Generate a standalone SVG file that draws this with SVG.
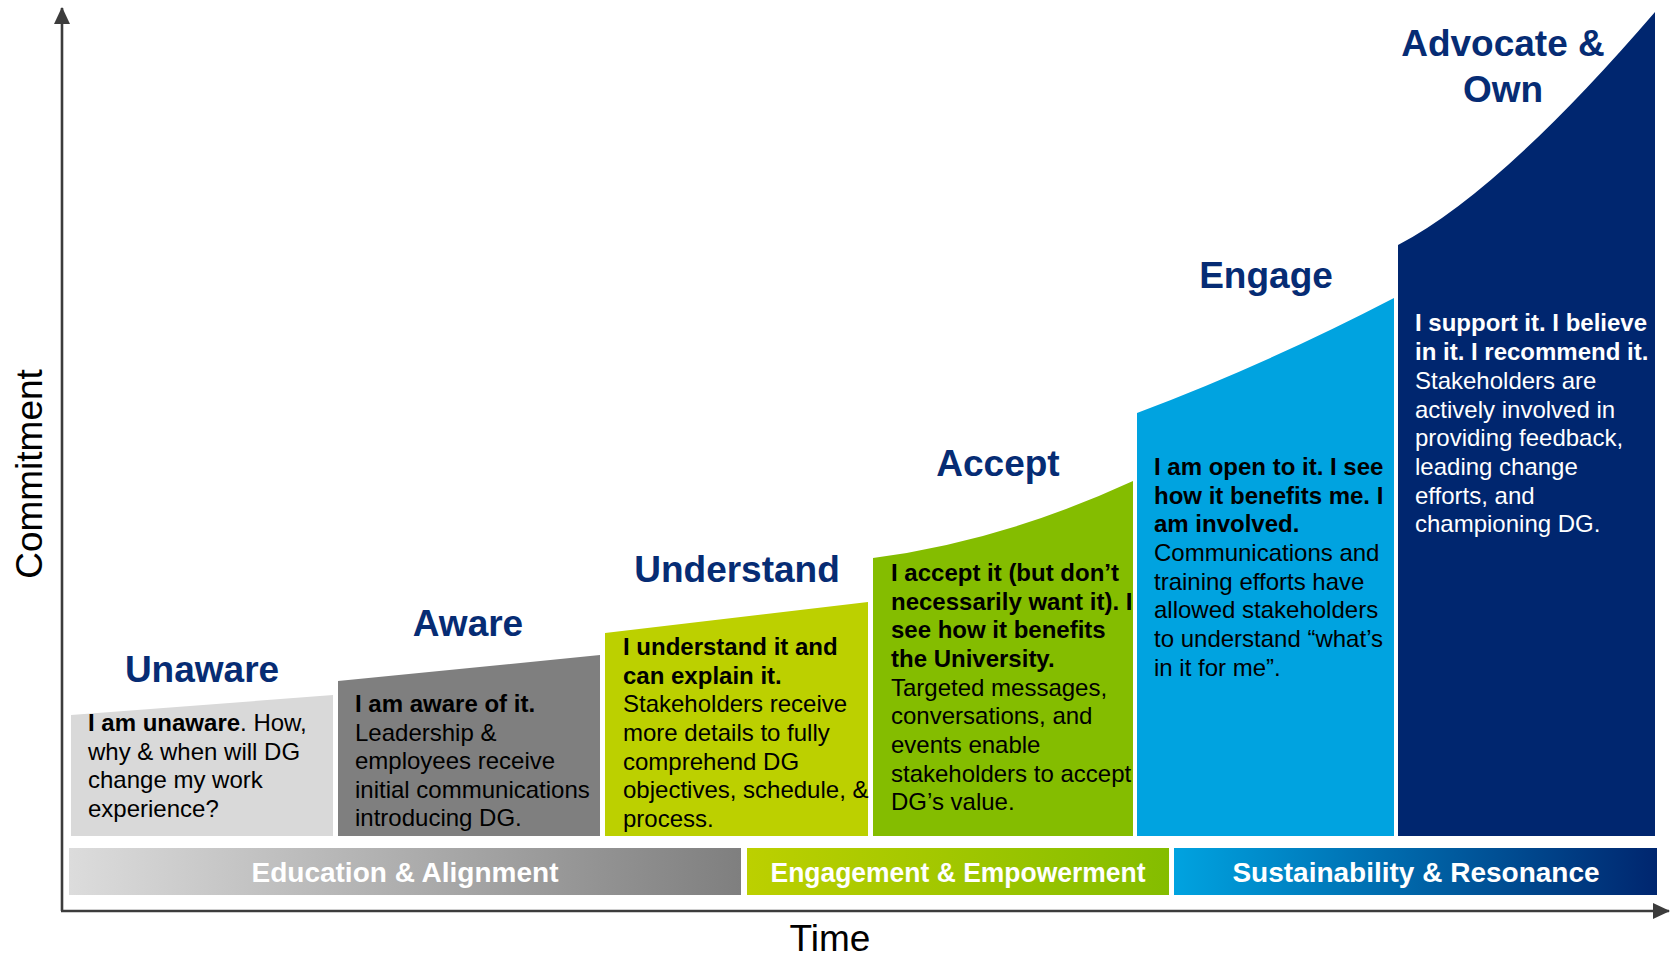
<svg xmlns="http://www.w3.org/2000/svg" width="1671" height="960" viewBox="0 0 1671 960">
<style>
text{font-family:"Liberation Sans",Arial,sans-serif}
.title{font-size:37px;font-weight:bold;fill:#062C74;text-anchor:middle}
.body{font-size:24px;fill:#000}
.w{fill:#fff}
.b{font-weight:bold}
.bar{font-size:28px;font-weight:bold;fill:#fff;text-anchor:middle}
.axlabel{font-size:37px;fill:#000;text-anchor:middle}
.axis{stroke:#3c3c3c;stroke-width:2.6;fill:none}
</style>
<defs>
<linearGradient id="gEdu" x1="0" y1="0" x2="1" y2="0"><stop offset="0" stop-color="#DCDCDC"/><stop offset="1" stop-color="#7F7F7F"/></linearGradient>
<linearGradient id="gEng" x1="0" y1="0" x2="1" y2="0"><stop offset="0" stop-color="#BCD000"/><stop offset="1" stop-color="#84BD00"/></linearGradient>
<linearGradient id="gSus" x1="0" y1="0" x2="1" y2="0"><stop offset="0" stop-color="#00A3E0"/><stop offset="1" stop-color="#00266F"/></linearGradient>
<marker id="arr" markerUnits="userSpaceOnUse" markerWidth="18" markerHeight="16" viewBox="0 0 18 16" refX="16" refY="8" orient="auto"><path d="M0,0 L17,8 L0,16 Z" fill="#3c3c3c"/></marker>
</defs>
<rect width="1671" height="960" fill="#fff"/>

<g id="connectors">
<line class="axis" x1="62" y1="911" x2="62" y2="8" marker-end="url(#arr)"/>
<line class="axis" x1="61" y1="911" x2="1669" y2="911" marker-end="url(#arr)"/>
</g>

<g id="axis-labels">
<text class="axlabel" transform="translate(42,474) rotate(-90)">Commitment</text>
<text class="axlabel" x="830" y="951">Time</text>
</g>

<g id="unaware">
<path d="M71,715 L333,695 L333,836 L71,836 Z" fill="#D9D9D9"/>
<text class="title" x="202" y="682">Unaware</text>
<text class="body" x="88" y="731"><tspan class="b">I am unaware</tspan>. How,</text>
<text class="body" x="88" y="760">why &amp; when will DG</text>
<text class="body" x="88" y="788">change my work</text>
<text class="body" x="88" y="817">experience?</text>
</g>

<g id="aware">
<path d="M338,681 L600,655 L600,836 L338,836 Z" fill="#7F7F7F"/>
<text class="title" x="468" y="636">Aware</text>
<text class="body b" x="355" y="712">I am aware of it.</text>
<text class="body" x="355" y="740.5">Leadership &amp;</text>
<text class="body" x="355" y="769">employees receive</text>
<text class="body" x="355" y="797.5">initial communications</text>
<text class="body" x="355" y="826">introducing DG.</text>
</g>

<g id="understand">
<path d="M605,633 L868,602 L868,836 L605,836 Z" fill="#BCD000"/>
<text class="title" x="737" y="582">Understand</text>
<text class="body b" x="623" y="655">I understand it and</text>
<text class="body b" x="623" y="684">can explain it.</text>
<text class="body" x="623" y="712">Stakeholders receive</text>
<text class="body" x="623" y="741">more details to fully</text>
<text class="body" x="623" y="770">comprehend DG</text>
<text class="body" x="623" y="798">objectives, schedule, &amp;</text>
<text class="body" x="623" y="827">process.</text>
</g>

<g id="accept">
<path d="M873,558 Q1003,541 1133,481 L1133,836 L873,836 Z" fill="#84BD00"/>
<text class="title" x="998" y="476">Accept</text>
<text class="body b" x="891" y="581">I accept it (but don’t</text>
<text class="body b" x="891" y="609.5">necessarily want it). I</text>
<text class="body b" x="891" y="638">see how it benefits</text>
<text class="body b" x="891" y="667">the University.</text>
<text class="body" x="891" y="696">Targeted messages,</text>
<text class="body" x="891" y="724">conversations, and</text>
<text class="body" x="891" y="753">events enable</text>
<text class="body" x="891" y="781.5">stakeholders to accept</text>
<text class="body" x="891" y="810">DG’s value.</text>
</g>

<g id="engage">
<path d="M1137,413 Q1265,365 1394,298 L1394,836 L1137,836 Z" fill="#00A3E0"/>
<text class="title" x="1266" y="288">Engage</text>
<text class="body b" x="1154" y="475">I am open to it. I see</text>
<text class="body b" x="1154" y="504">how it benefits me. I</text>
<text class="body b" x="1154" y="532">am involved.</text>
<text class="body" x="1154" y="561">Communications and</text>
<text class="body" x="1154" y="590">training efforts have</text>
<text class="body" x="1154" y="618">allowed stakeholders</text>
<text class="body" x="1154" y="647">to understand “what’s</text>
<text class="body" x="1154" y="676">in it for me”.</text>
</g>

<g id="advocate">
<path d="M1398,245 Q1500,192 1655,12 L1655,836 L1398,836 Z" fill="#00266F"/>
<text class="title" x="1503" y="56">Advocate &amp;</text>
<text class="title" x="1503" y="102">Own</text>
<text class="body b w" x="1415" y="331">I support it. I believe</text>
<text class="body b w" x="1415" y="360">in it. I recommend it.</text>
<text class="body w" x="1415" y="389">Stakeholders are</text>
<text class="body w" x="1415" y="417.5">actively involved in</text>
<text class="body w" x="1415" y="446">providing feedback,</text>
<text class="body w" x="1415" y="475">leading change</text>
<text class="body w" x="1415" y="503.5">efforts, and</text>
<text class="body w" x="1415" y="532">championing DG.</text>
</g>

<g id="bar-education">
<rect x="69" y="848" width="672" height="47" fill="url(#gEdu)"/>
<text class="bar" x="405" y="882">Education &amp; Alignment</text>
</g>
<g id="bar-engagement">
<rect x="747" y="848" width="422" height="47" fill="url(#gEng)"/>
<text class="bar" x="958" y="882" textLength="375" lengthAdjust="spacingAndGlyphs">Engagement &amp; Empowerment</text>
</g>
<g id="bar-sustainability">
<rect x="1174" y="848" width="483" height="47" fill="url(#gSus)"/>
<text class="bar" x="1416" y="882">Sustainability &amp; Resonance</text>
</g>
</svg>
